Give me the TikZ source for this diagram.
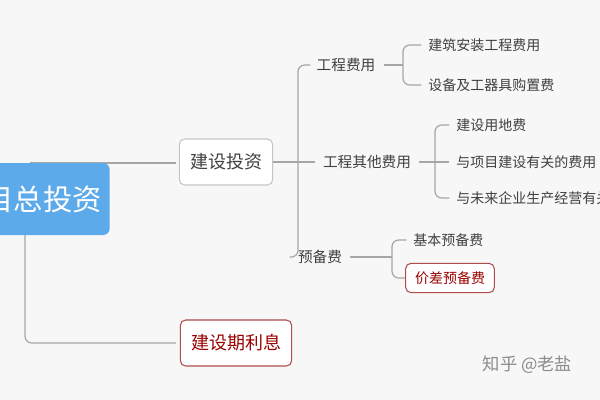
\documentclass[tikz,border=0pt]{standalone}
\usepackage{fontspec}
\setmainfont{Noto Sans CJK SC}
\definecolor{rootblue}{HTML}{5CAAEA}
\begin{document}
\begin{tikzpicture}[x=0.75pt,y=-0.75pt,
  ln/.style={draw=gray!70,line width=0.9pt,rounded corners=5pt},
  box/.style={draw=gray!45,fill=white,rounded corners=4pt,line width=0.8pt,minimum height=34.5pt,inner xsep=8pt,font=\fontsize{13.5}{15}\selectfont,text=black!75},
  rbox/.style={draw=red!55!black!70,fill=white,rounded corners=4pt,line width=0.8pt,text=red!60!black,inner xsep=8pt},
  itm/.style={anchor=west,inner sep=0pt,font=\fontsize{10.5}{12}\selectfont,text=black!75},
  mid/.style={inner sep=0pt,font=\fontsize{11}{12}\selectfont,text=black!75}]
\fill[black!3] (0,0) rectangle (600,400);
\clip (0,0) rectangle (600,400);
\useasboundingbox (0,0) rectangle (600,400);
% main
\draw[ln] (30,163) -- (176,163);
\draw[ln] (25,235) -- (25,343) -- (176,343);
\node[fill=rootblue,rounded corners=5pt,minimum height=54pt,minimum width=150pt,anchor=east,text=white,font=\fontsize{22}{24}\selectfont,inner xsep=6pt,align=right,text width=138pt] (root) at (110,199) {项目总投资};
\node[box] (jstz) at (226,162) {建设投资};
\node[box,rbox,minimum height=34.5pt,font=\fontsize{13.5}{15}\selectfont] (lx) at (236,343) {建设期利息};
% level 2
\node[mid] (gc) at (346,65) {工程费用};
\node[mid] (qt) at (367,162) {工程其他费用};
\node[mid] (yb) at (320,257) {预备费};
\coordinate (b1) at (298,162);
\draw[ln] (jstz.east) -- (b1);
\draw[ln] (gc.west)++(-6,0) -- (298,65) -- (298,257) -- ([xshift=-6pt]yb.west);
\draw[ln] (b1) -- ([xshift=-6pt]qt.west);
% gc children
\node[itm] (a1) at (428,45) {建筑安装工程费用};
\node[itm] (a2) at (428,85) {设备及工器具购置费};
\draw[ln] ([xshift=6pt]gc.east) -- (403,65);
\draw[ln] ([xshift=-5pt]a1.west) -- (403,45) -- (403,85) -- ([xshift=-5pt]a2.west);
% qt children
\node[itm] (c1) at (456,125) {建设用地费};
\node[itm] (c2) at (456,162) {与项目建设有关的费用};
\node[itm] (c3) at (456,198) {与未来企业生产经营有关的费用};
\draw[ln] ([xshift=6pt]qt.east) -- ([xshift=-5pt]c2.west);
\draw[ln] ([xshift=-5pt]c1.west) -- (435,125) -- (435,198) -- ([xshift=-5pt]c3.west);
% yb children
\node[itm] (d1) at (413,240) {基本预备费};
\node[rbox,font=\fontsize{10.5}{12}\selectfont,minimum height=22pt,inner xsep=7pt] (d2) at (450,278) {价差预备费};
\draw[ln] ([xshift=6pt]yb.east) -- (392,257);
\draw[ln] ([xshift=-5pt]d1.west) -- (392,240) -- (392,278) -- (d2.west);
% watermark
\node[anchor=west,text=black!45,font=\fontsize{13}{15}\selectfont] (wm) at (478,365) {知乎 @老盐};
\end{tikzpicture}
\end{document}
